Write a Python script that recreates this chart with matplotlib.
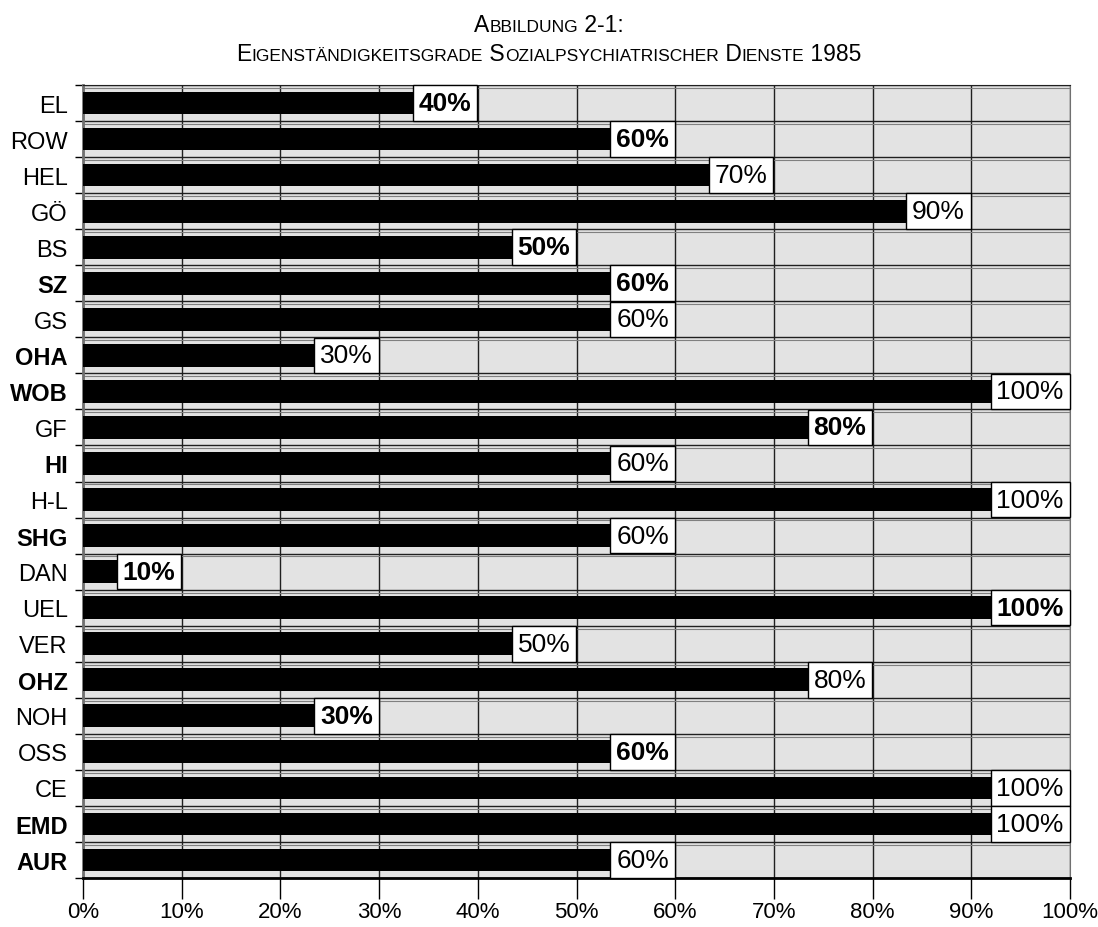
import numpy as np
import matplotlib
matplotlib.use('Agg')
import matplotlib.pyplot as plt
from matplotlib.ticker import FixedLocator, FuncFormatter

plt.rcParams['font.family'] = ['Liberation Sans', 'DejaVu Sans']

# Dienste von oben nach unten
dienste = ['EL', 'ROW', 'HEL', 'GÖ', 'BS', 'SZ', 'GS', 'OHA', 'WOB', 'GF', 'HI',
           'H-L', 'SHG', 'DAN', 'UEL', 'VER', 'OHZ', 'NOH', 'OSS', 'CE', 'EMD', 'AUR']
grade = [40, 60, 70, 90, 50, 60, 60, 30, 100, 80, 60,
         100, 60, 10, 100, 50, 80, 30, 60, 100, 100, 60]
fett_namen = ['SZ', 'OHA', 'WOB', 'HI', 'SHG', 'OHZ', 'EMD', 'AUR']
fett_werte = ['EL', 'ROW', 'BS', 'SZ', 'GF', 'DAN', 'UEL', 'NOH', 'OSS']
xticks = [0, 10, 20, 30, 40, 50, 60, 70, 80, 90, 100]

fig = plt.figure(figsize=(10.98, 9.28), dpi=100)
ax = fig.add_axes([0.0756, 0.0528, 0.8989, 0.8545])
ax.set_facecolor('#e3e3e3')

y = np.arange(len(dienste))
ax.barh(y, grade, height=0.63, color='black', zorder=3)

ax.set_xlim(0, 100)
ax.set_ylim(len(dienste) - 0.5, -0.5)

# Gitter: senkrecht bei jedem Zehntel, waagrecht zwischen den Balken
for xv in xticks:
    ax.axvline(xv, color='#202020', lw=1.0, zorder=1)
for b in np.arange(-0.5, len(dienste), 1.0):
    ax.axhline(b, color='#202020', lw=1.0, zorder=1)
    ax.axhline(b + 0.08, color='#808080', lw=0.8, zorder=1)

ax.xaxis.set_major_locator(FixedLocator(xticks))
ax.xaxis.set_major_formatter(FuncFormatter(lambda v, p: f'{v:.0f}%'))
ax.tick_params(axis='x', length=15, width=1, pad=1.5, labelsize=16, color='black')

ax.set_yticks(y)
ax.set_yticklabels(dienste)
ax.yaxis.set_minor_locator(FixedLocator(np.arange(-0.5, len(dienste), 1.0)))
ax.tick_params(axis='y', which='major', length=0, pad=11, labelsize=17)
ax.tick_params(axis='y', which='minor', length=6, width=1)
for lab in ax.get_yticklabels():
    if lab.get_text() in fett_namen:
        lab.set_fontweight('bold')

ax.spines['left'].set_color('#707070')
ax.spines['left'].set_linewidth(2)
ax.spines['bottom'].set_linewidth(2)
ax.spines['right'].set_color('#707070')
ax.spines['top'].set_color('#202020')

# Wertbeschriftung am Balkenende
for yi, name, g in zip(y, dienste, grade):
    ax.annotate(f'{g}%', xy=(g, yi), xytext=(-4.5, 0), textcoords='offset points',
                ha='right', va='center', fontsize=19,
                fontweight='bold' if name in fett_werte else 'normal',
                bbox=dict(boxstyle='square,pad=0.22', fc='white', ec='black', lw=1),
                zorder=5)

# Titel in Kapitälchen
def kapitaelchen(teile, y_fig, gross=16.5, klein=12.5):
    fig.canvas.draw()
    r = fig.canvas.get_renderer()
    texte = []
    for s, big in teile:
        t = fig.text(0, y_fig, s, fontsize=gross if big else klein, va='baseline')
        texte.append(t)
    breiten = [t.get_window_extent(r).width for t in texte]
    total = sum(breiten)
    x0 = (fig.bbox.width - total) / 2
    for t, w in zip(texte, breiten):
        t.set_x(x0 / fig.bbox.width)
        x0 += w

kapitaelchen([('A', True), ('BBILDUNG', False), ('\u00a02-1:', True)], 0.966)
kapitaelchen([('E', True), ('IGENSTÄNDIGKEITSGRADE', False), ('\u00a0S', True),
              ('OZIALPSYCHIATRISCHER', False), ('\u00a0D', True), ('IENSTE', False),
              ('\u00a01985', True)], 0.934)

fig.savefig('out.png', dpi=100)
